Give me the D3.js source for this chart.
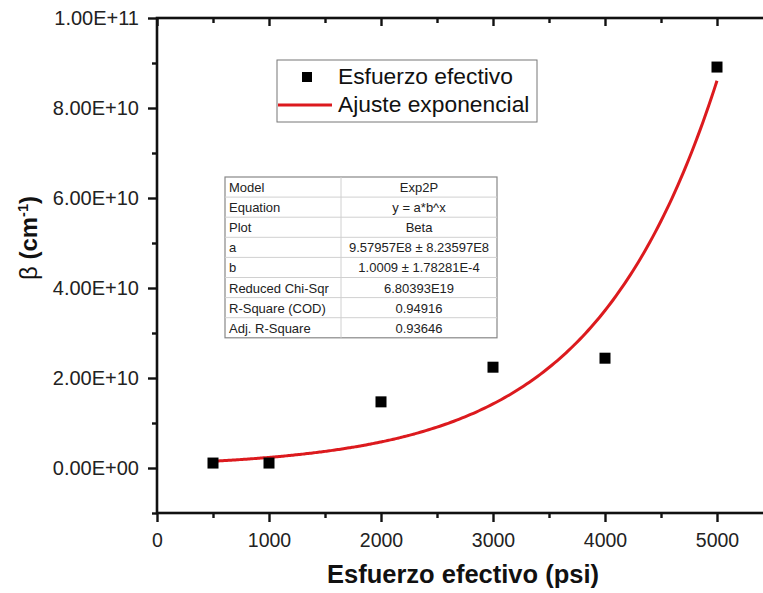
<!DOCTYPE html>
<html>
<head>
<meta charset="utf-8">
<script src="https://cdn.jsdelivr.net/npm/d3@7/dist/d3.min.js"></script>
<style>
  html, body { margin: 0; padding: 0; background: #fff; }
  svg { display: block; font-family: Arial, "Liberation Sans", sans-serif; }
</style>
</head>
<body>
<svg id="chart" width="763" height="593"></svg>
<script>
// Measured points: effective stress (psi) vs beta (cm^-1)
const stress = [500, 1000, 2000, 3000, 4000, 5000];
const beta = [1.1e9, 1.1e9, 1.47e10, 2.24e10, 2.44e10, 8.91e10];

// Exponential fit y = a*b^x
const fitA = 9.57957e8;
const fitB = 1.0009;
const fitRange = [500, 5000];

const xTicks = [0, 1000, 2000, 3000, 4000, 5000];
const xMinor = [500, 1500, 2500, 3500, 4500, 5500];
const yTicks = [0, 2e10, 4e10, 6e10, 8e10, 1e11];
const yMinor = [-1e10, 1e10, 3e10, 5e10, 7e10, 9e10];

const tableRows = [
  ["Model", "Exp2P"],
  ["Equation", "y = a*b^x"],
  ["Plot", "Beta"],
  ["a", "9.57957E8 \u00b1 8.23597E8"],
  ["b", "1.0009 \u00b1 1.78281E-4"],
  ["Reduced Chi-Sqr", "6.80393E19"],
  ["R-Square (COD)", "0.94916"],
  ["Adj. R-Square", "0.93646"]
];

const legendItems = ["Esfuerzo efectivo", "Ajuste exponencial"];

const svg = d3.select("#chart");
const pLeft = 157, pRight = 773, pTop = 18, pBottom = 513;

const x = d3.scaleLinear().domain([0, 5500]).range([pLeft, pRight]);
const y = d3.scaleLinear().domain([-1e10, 1e11]).range([pBottom, pTop]);

function sciFmt(d) {
  if (d === 0) return "0.00E+00";
  const e = Math.floor(Math.log10(Math.abs(d)));
  const m = d / Math.pow(10, e);
  return m.toFixed(2) + "E" + (e >= 0 ? "+" : "-") + String(Math.abs(e)).padStart(2, "0");
}

const axisColor = "#111";
const axisW = 2.6;

function styleAxis(g) {
  g.selectAll(".domain").remove();
  g.selectAll(".tick line").attr("stroke", axisColor).attr("stroke-width", 2.4);
  g.selectAll(".tick text").attr("fill", "#222").attr("font-family", "Arial, 'Liberation Sans', sans-serif");
}

// minor ticks
svg.append("g").attr("transform", `translate(0,${pBottom})`)
  .call(d3.axisBottom(x).tickValues(xMinor).tickSize(5).tickFormat(""))
  .call(styleAxis);
svg.append("g").attr("transform", `translate(0,${pTop})`)
  .call(d3.axisTop(x).tickValues(xMinor).tickSize(-5).tickFormat(""))
  .call(styleAxis);
svg.append("g").attr("transform", `translate(${pLeft},0)`)
  .call(d3.axisLeft(y).tickValues(yMinor).tickSize(5).tickFormat(""))
  .call(styleAxis);
svg.append("g").attr("transform", `translate(${pRight},0)`)
  .call(d3.axisRight(y).tickValues(yMinor).tickSize(-5).tickFormat(""))
  .call(styleAxis);

// major ticks
svg.append("g").attr("transform", `translate(0,${pBottom})`)
  .call(d3.axisBottom(x).tickValues(xTicks).tickSize(9).tickPadding(11).tickFormat(d3.format("d")))
  .call(styleAxis)
  .call(g => g.selectAll(".tick text").attr("font-size", 19.5));
svg.append("g").attr("transform", `translate(0,${pTop})`)
  .call(d3.axisTop(x).tickValues(xTicks).tickSize(-8).tickFormat(""))
  .call(styleAxis);
svg.append("g").attr("transform", `translate(${pLeft},0)`)
  .call(d3.axisLeft(y).tickValues(yTicks).tickSize(9).tickPadding(9).tickFormat(sciFmt))
  .call(styleAxis)
  .call(g => g.selectAll(".tick text").attr("font-size", 20));
svg.append("g").attr("transform", `translate(${pRight},0)`)
  .call(d3.axisRight(y).tickValues(yTicks).tickSize(-8).tickFormat(""))
  .call(styleAxis);

// frame
svg.append("rect")
  .attr("x", pLeft).attr("y", pTop)
  .attr("width", pRight - pLeft).attr("height", pBottom - pTop)
  .attr("fill", "none").attr("stroke", axisColor).attr("stroke-width", axisW);

// fitted curve
const fitX = d3.range(fitRange[0], fitRange[1] + 1, 25);
const line = d3.line().x(d => x(d)).y(d => y(fitA * Math.pow(fitB, d))).curve(d3.curveMonotoneX);
svg.append("path")
  .datum(fitX)
  .attr("d", line)
  .attr("fill", "none")
  .attr("stroke", "#dc1a1e")
  .attr("stroke-width", 3);

// data markers
const ms = 11;
svg.append("g").selectAll("rect")
  .data(stress.map((s, i) => [s, beta[i]]))
  .join("rect")
  .attr("x", d => x(d[0]) - ms / 2)
  .attr("y", d => y(d[1]) - ms / 2)
  .attr("width", ms).attr("height", ms)
  .attr("fill", "#000");

// legend
const lg = svg.append("g");
lg.append("rect").attr("x", 277).attr("y", 60).attr("width", 260).attr("height", 62)
  .attr("fill", "#fff").attr("stroke", "#777").attr("stroke-width", 1);
lg.append("rect").attr("x", 302).attr("y", 72).attr("width", 10).attr("height", 10).attr("fill", "#000");
lg.append("line").attr("x1", 278).attr("x2", 332).attr("y1", 105).attr("y2", 105)
  .attr("stroke", "#dc1a1e").attr("stroke-width", 3);
lg.selectAll("text").data(legendItems).join("text")
  .attr("x", 338).attr("y", (d, i) => 84 + i * 28)
  .attr("font-size", 22.8).attr("fill", "#111")
  .text(d => d);

// fit parameters table
const tX = 225, tY = 177, rowH = 20.1, c1 = 116, c2 = 156;
const tg = svg.append("g");
tg.append("rect").attr("x", tX).attr("y", tY).attr("width", c1 + c2).attr("height", rowH * tableRows.length)
  .attr("fill", "#fff").attr("stroke", "#888").attr("stroke-width", 1.2);
tableRows.forEach((r, i) => {
  if (i > 0) {
    tg.append("line").attr("x1", tX).attr("x2", tX + c1 + c2)
      .attr("y1", tY + i * rowH).attr("y2", tY + i * rowH)
      .attr("stroke", "#d0d0d0").attr("stroke-width", 1);
  }
  tg.append("text").attr("x", tX + 4).attr("y", tY + i * rowH + 15)
    .attr("font-size", 13).attr("fill", "#222").text(r[0]);
  tg.append("text").attr("x", tX + c1 + c2 / 2).attr("y", tY + i * rowH + 15)
    .attr("text-anchor", "middle").attr("font-size", 13).attr("fill", "#222").text(r[1]);
});
tg.append("line").attr("x1", tX + c1).attr("x2", tX + c1).attr("y1", tY).attr("y2", tY + rowH * tableRows.length)
  .attr("stroke", "#d0d0d0").attr("stroke-width", 1);

// axis titles
svg.append("text")
  .attr("x", 463).attr("y", 583)
  .attr("text-anchor", "middle")
  .attr("font-size", 25.5).attr("font-weight", "bold").attr("fill", "#111")
  .text("Esfuerzo efectivo (psi)");

const yt = svg.append("text")
  .attr("transform", "translate(37,238) rotate(-90)")
  .attr("text-anchor", "middle")
  .attr("font-size", 24).attr("fill", "#111");
yt.append("tspan").text("\u03b2 ");
yt.append("tspan").attr("font-weight", "bold").text("(cm");
yt.append("tspan").attr("font-weight", "bold").attr("font-size", 14.5).attr("dy", -9.5).text("-1");
yt.append("tspan").attr("font-weight", "bold").attr("dy", 9.5).text(")");
</script>
</body>
</html>
